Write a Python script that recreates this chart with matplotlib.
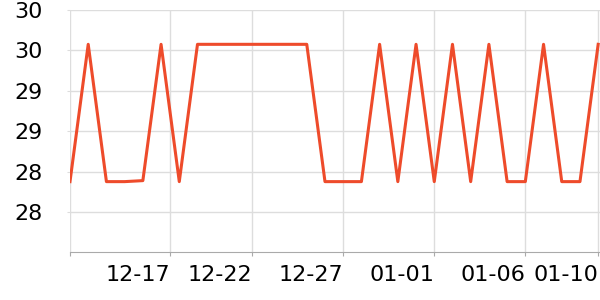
import numpy as np
import matplotlib
matplotlib.use("Agg")
import matplotlib.pyplot as plt

# daily values from 12-12 to 01-10
days = np.arange(30)
values = [28.3, 29.66, 28.3, 28.3, 28.31, 29.66, 28.3, 29.66, 29.66, 29.66,
          29.66, 29.66, 29.66, 29.66, 28.3, 28.3, 28.3, 29.66, 28.3, 29.66,
          28.3, 29.66, 28.3, 29.66, 28.3, 28.3, 29.66, 28.3, 28.3, 29.66]

xtick_pos = [0, 5.5, 10, 15, 20, 25, 29]
xtick_labels = ["", "12-17", "12-22", "12-27", "01-01", "01-06", "01-10"]
ytick_pos = [28.0, 28.4, 28.8, 29.2, 29.6, 30.0]
ytick_labels = ["28", "28", "29", "29", "30", "30"]

fig = plt.figure(figsize=(6, 3), dpi=100)
ax = fig.add_axes([70 / 600, (300 - 252.3) / 300, 530 / 600, (252.3 - 10) / 300])

ax.plot(days, values, color="#ee4b2b", lw=2.2, zorder=3)

ax.set_xlim(0, 29.1)
ax.set_ylim(27.6, 30.0)
ax.set_xticks(xtick_pos)
ax.set_xticklabels(xtick_labels, ha="right", fontsize=16)
ax.set_yticks(ytick_pos)
ax.set_yticklabels(ytick_labels, fontsize=16)

ax.grid(True, color="#dddddd", lw=1)
for s in ["top", "right", "left"]:
    ax.spines[s].set_visible(False)
ax.spines["bottom"].set_color("#aaaaaa")
ax.tick_params(axis="x", length=3, color="#aaaaaa", pad=6)
ax.tick_params(axis="y", length=2, color="#dddddd", pad=18)

fig.savefig("out.png", dpi=100)
